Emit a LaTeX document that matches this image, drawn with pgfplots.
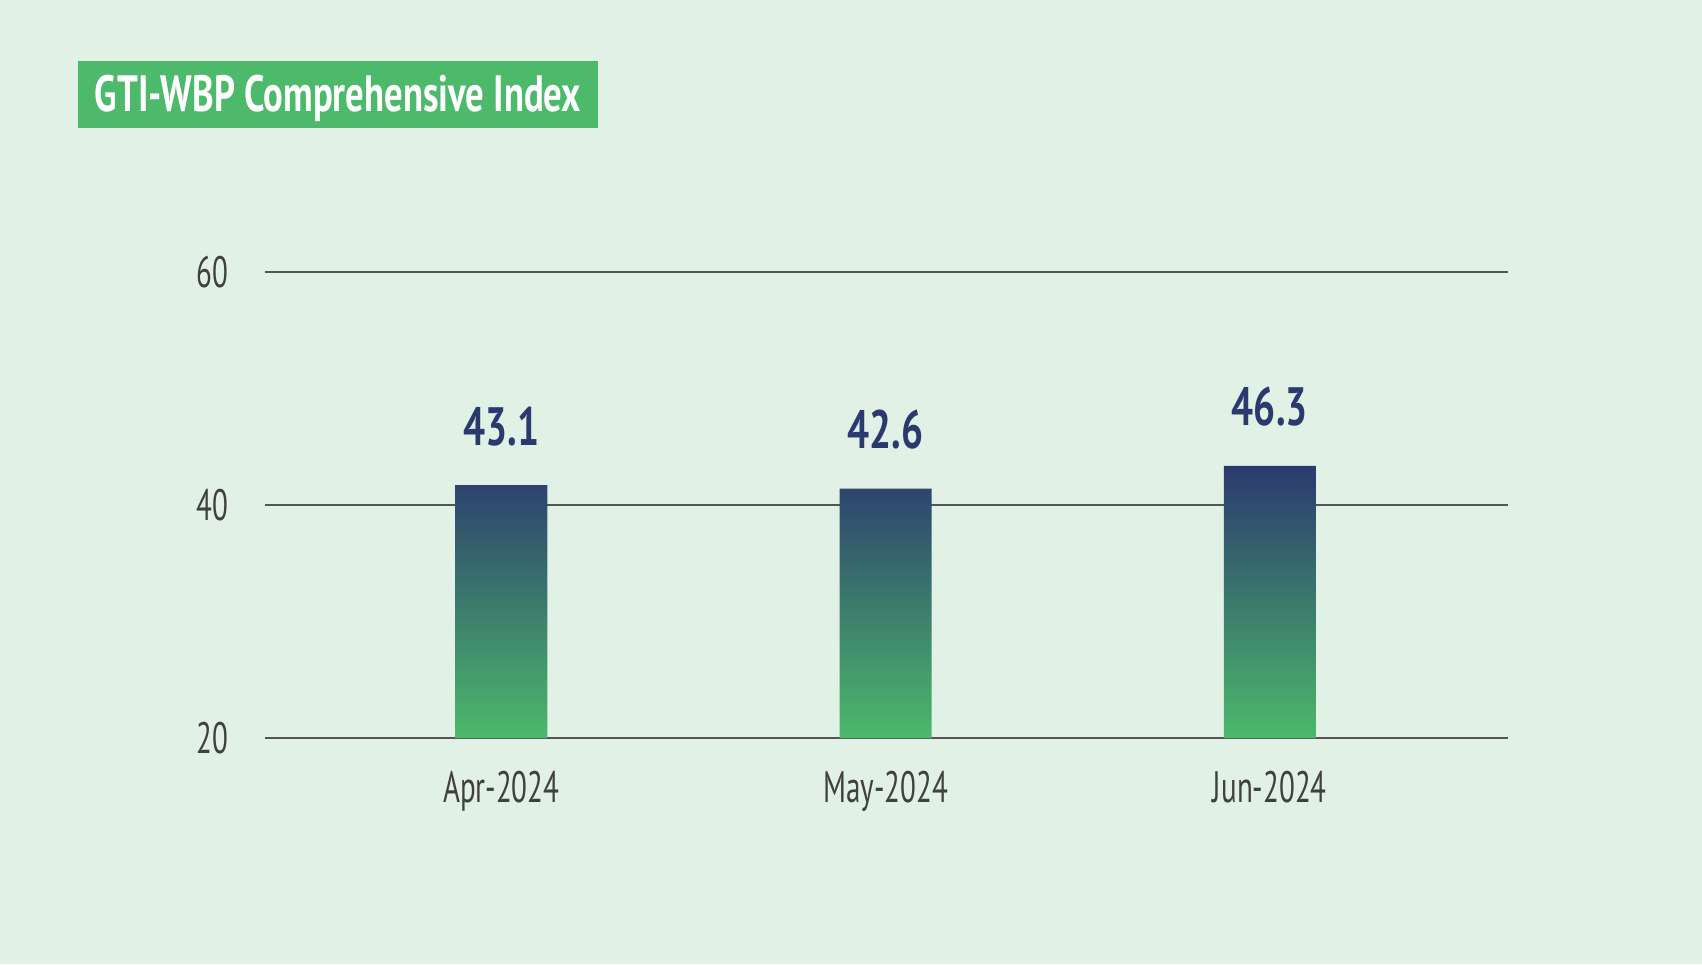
\documentclass[border=0pt]{standalone}
\usepackage{pgfplots}
\pgfplotsset{compat=1.18}
\usepackage{fontspec}
\setmainfont[FakeStretch=0.72]{PT Sans}
\newfontfamily\tickfont[FakeStretch=0.66]{PT Sans}
\definecolor{bgc}{HTML}{E2F1E6}
\definecolor{gtgreen}{HTML}{4CB96B}
\definecolor{navy}{HTML}{2B3A6E}
\definecolor{midteal}{HTML}{2F5C70}
\definecolor{ticktext}{HTML}{404040}
\definecolor{gridc}{HTML}{555555}

\begin{document}
\begin{tikzpicture}
  \fill[bgc] (0,0) rectangle (851pt,482pt);
  \fill[gtgreen] (39pt,451.5pt) rectangle (299pt,418pt);
  \node[text=white, anchor=base, inner sep=0pt, font=\fontsize{25.5}{28}\selectfont\bfseries]
        at (169pt,426pt) {GTI-WBP Comprehensive Index};
  \begin{axis}[
    at={(132.5pt,113pt)}, anchor=south west,
    scale only axis, width=621.5pt, height=233pt,
    xmin=-0.615, xmax=2.62, ymin=20, ymax=60,
    ytick={20,40,60}, xtick=data,
    xticklabels={Apr-2024, May-2024, Jun-2024},
    axis line style={draw=none},
    major tick length=0pt,
    ymajorgrids, major grid style={color=gridc, line width=1pt},
    tick label style={font=\fontsize{22}{26}\selectfont\tickfont, text=ticktext},
    /pgf/number format/assume math mode=true,
    yticklabel style={xshift=-15pt},
    xticklabel style={yshift=-13pt},
    clip=false,
  ]
  \addplot[ybar, bar width=46pt, draw=none, top color=navy, middle color=midteal, bottom color=gtgreen,
    point meta=explicit symbolic, nodes near coords,
    every node near coord/.append style={inner sep=0pt, yshift=19.5pt, text=navy,
      font=\fontsize{27}{30}\selectfont\bfseries}]
    coordinates {(0,41.7) [43.1] (1,41.4) [42.6] (2,43.35) [46.3]};
  \end{axis}
\end{tikzpicture}
\end{document}
